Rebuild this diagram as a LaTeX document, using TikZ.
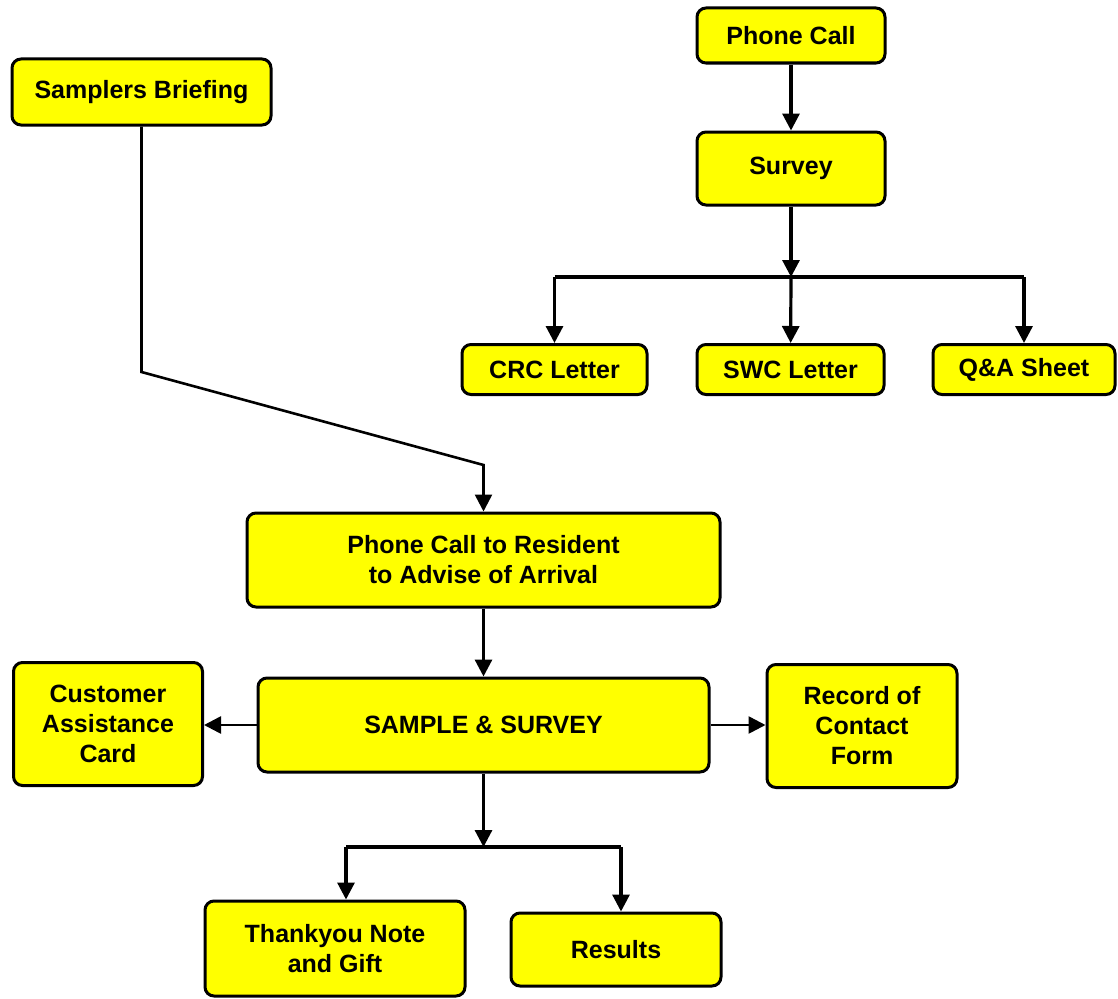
\documentclass[tikz,border=0pt]{standalone}
\usepackage{fontspec}
\setmainfont{Liberation Sans}
\usepackage{tikz}
\usetikzlibrary{arrows.meta,positioning}

\definecolor{boxyellow}{RGB}{255,255,0}

\tikzset{
    flowbox/.style={draw=black, fill=boxyellow, line width=3pt, rounded corners=9pt,
        align=center, inner sep=0pt, font=\bfseries\fontsize{25}{30}\selectfont},
    link/.style={line width=3.2pt, -{Triangle[length=17pt,width=17pt]}},
    joint/.style={line width=3.2pt}
}

\begin{document}
\begin{tikzpicture}[x=1pt,y=-1pt]
    \useasboundingbox (0,0) rectangle (1118,998);

    % upper branch
    \node[flowbox, minimum width=188pt, minimum height=55pt] (phone) at (791,35.5) {Phone Call};
    \node[flowbox, minimum width=188pt, minimum height=73pt] (survey) at (791,168.5) {Survey};
    \node[flowbox, minimum width=185pt, minimum height=50pt] (crc) at (554.5,369.5) {CRC Letter};
    \node[flowbox, minimum width=187pt, minimum height=50pt] (swc) at (790.5,369.5) {SWC Letter};
    \node[flowbox, minimum width=182pt, minimum height=50pt] (qa) at (1024,369.5) {Q\&A Sheet};

    % main flow
    \node[flowbox, minimum width=259pt, minimum height=66pt] (briefing) at (141.5,92) {Samplers Briefing};
    \node[flowbox, minimum width=473pt, minimum height=94pt] (resident) at (483.5,560)
        {Phone Call to Resident\\to Advise of Arrival};
    \node[flowbox, minimum width=451pt, minimum height=94pt] (sample) at (483.5,725) {SAMPLE \& SURVEY};
    \node[flowbox, minimum width=189pt, minimum height=123pt] (card) at (108,724)
        {Customer\\Assistance\\Card};
    \node[flowbox, minimum width=190pt, minimum height=123pt] (record) at (862,726)
        {Record of\\Contact\\Form};
    \node[flowbox, minimum width=260pt, minimum height=95pt] (thanks) at (335,948.5)
        {Thankyou Note\\and Gift};
    \node[flowbox, minimum width=210pt, minimum height=73pt] (results) at (616,949.5) {Results};

    % split points
    \coordinate (split1) at (791,277);
    \coordinate (split2) at (483.5,847);
    \coordinate (bend1) at (141.5,372);
    \coordinate (bend2) at (483.5,465);

    % connectors
    \draw[link] (phone) -- (survey);
    \draw[link] (survey) -- (split1);
    \draw[joint] (split1 -| crc) -- (split1 -| qa);
    \draw[link] (split1 -| crc) -- (crc);
    \draw[link] (split1) -- (swc);
    \draw[link] (split1 -| qa) -- (qa);

    \draw[link, line width=2.6pt] (briefing) -- (bend1) -- (bend2) -- (resident);
    \draw[link] (resident) -- (sample);
    \draw[link, line width=2.6pt] (sample.west) -- (card.east |- sample.west);
    \draw[link, line width=2.6pt] (sample.east) -- (record.west |- sample.east);

    \draw[link] (sample) -- (split2);
    \coordinate (left2) at (346,847);
    \coordinate (right2) at (621,847);
    \draw[joint] (left2) -- (right2);
    \draw[link] (left2) -- (left2 |- thanks.north);
    \draw[link] (right2) -- (right2 |- results.north);
\end{tikzpicture}
\end{document}
